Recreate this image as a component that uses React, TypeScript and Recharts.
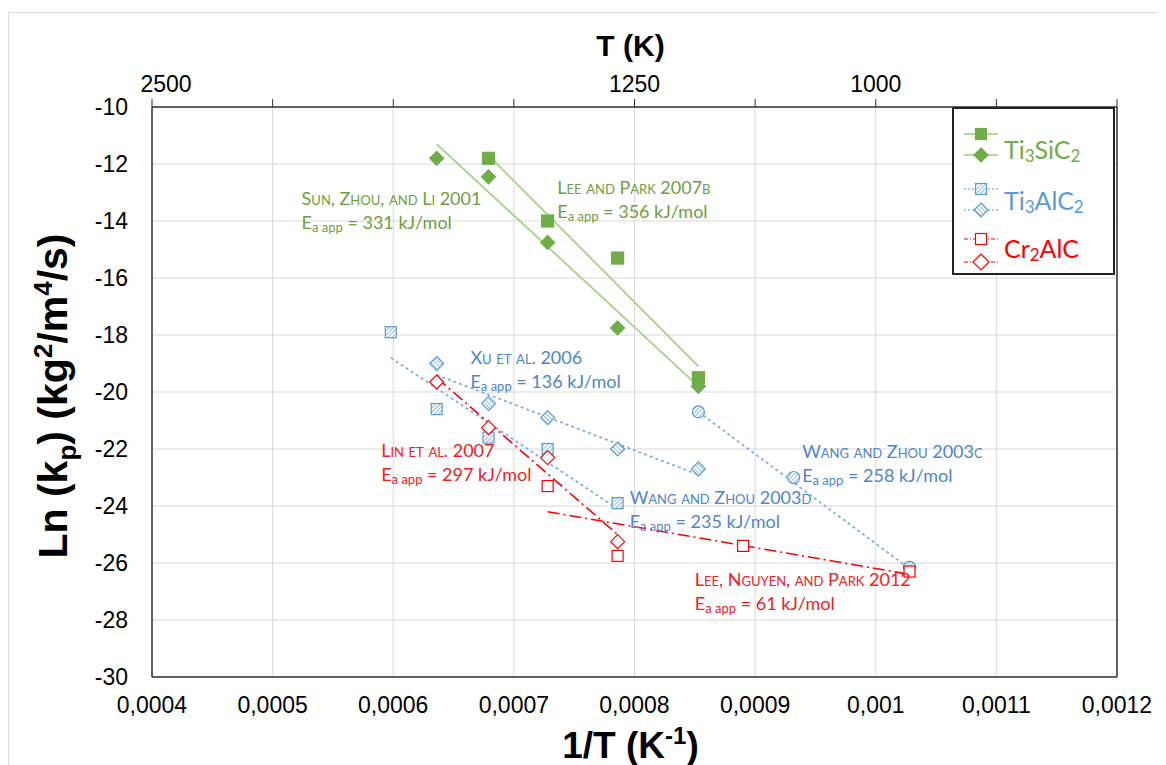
import React from 'react';
import {
  ScatterChart,
  Scatter,
  XAxis,
  YAxis,
  CartesianGrid,
  ReferenceLine,
  ReferenceDot,
  Label,
} from 'recharts';

// axis ticks
const xTicks = [0.0004, 0.0005, 0.0006, 0.0007, 0.0008, 0.0009, 0.001, 0.0011, 0.0012];
const yTicks = [-30, -28, -26, -24, -22, -20, -18, -16, -14, -12, -10];
const topTickLabels = ['2500', '', '', '', '1250', '', '1000', '', ''];

// Ti3SiC2 - Lee and Park 2007b (squares)
const sicLeeX = [0.000679, 0.000728, 0.000786, 0.000853];
const sicLeeY = [-11.8, -14.0, -15.3, -19.5];
const sicLeeFitX = [0.000679, 0.000853];
const sicLeeFitY = [-11.7, -19.1];

// Ti3SiC2 - Sun, Zhou and Li 2001 (diamonds)
const sicSunX = [0.000636, 0.000679, 0.000728, 0.000786, 0.000853];
const sicSunY = [-11.8, -12.45, -14.75, -17.75, -19.8];
const sicSunFitX = [0.000636, 0.000853];
const sicSunFitY = [-11.3, -19.8];

// Ti3AlC2 - Wang and Zhou 2003d (squares)
const talWangDX = [0.000598, 0.000636, 0.000679, 0.000728, 0.000786];
const talWangDY = [-17.9, -20.6, -21.6, -22.0, -23.9];
const talWangDFitX = [0.000598, 0.000786];
const talWangDFitY = [-18.8, -24.1];

// Ti3AlC2 - Xu et al. 2006 (diamonds)
const talXuX = [0.000636, 0.000679, 0.000728, 0.000786, 0.000853];
const talXuY = [-19.0, -20.4, -20.9, -22.0, -22.7];
const talXuFitX = [0.000636, 0.000853];
const talXuFitY = [-19.4, -22.9];

// Ti3AlC2 - Wang and Zhou 2003c (circles)
const talWangCX = [0.000853, 0.000932, 0.001028];
const talWangCY = [-20.7, -23.0, -26.15];
const talWangCFitX = [0.000853, 0.001028];
const talWangCFitY = [-20.7, -26.2];

// Cr2AlC - Lin et al. 2007 (diamonds)
const crLinX = [0.000636, 0.000679, 0.000728, 0.000786];
const crLinY = [-19.65, -21.25, -22.3, -25.25];
const crLinFitX = [0.000636, 0.000786];
const crLinFitY = [-19.5, -25.0];

// Cr2AlC - Lee, Nguyen and Park 2012 (squares)
const crLeeX = [0.000728, 0.000786, 0.00089, 0.001028];
const crLeeY = [-23.3, -25.75, -25.4, -26.3];
const crLeeFitX = [0.000728, 0.001028];
const crLeeFitY = [-24.2, -26.4];

const pts = (xs: number[], ys: number[]) => xs.map((x, i) => ({ x, y: ys[i] }));

const GREEN = '#70AD47';
const GREEN_LINE = '#A9D18E';
const GREEN_TEXT = '#6E9E45';
const BLUE = '#5B9BD5';
const BLUE_LINE = '#86AEDC';
const BLUE_TEXT = '#4F86C6';
const RED = '#FF0000';
const RED_TEXT = '#EE2222';

const axisFont = '"Liberation Sans", Arial, sans-serif';
const noteFont = 'Lato, "Open Sans", sans-serif';

// annotations (label anchor in chart units)
const notes = [
  { x: 0.000524, y: -13.19, title: 'Sun, Zhou, and Li 2001', ea: '331', color: GREEN_TEXT },
  { x: 0.000736, y: -12.8, title: 'Lee and Park 2007b', ea: '356', color: GREEN_TEXT },
  { x: 0.000664, y: -18.77, title: 'Xu et al. 2006', ea: '136', color: BLUE_TEXT },
  { x: 0.00059, y: -22.04, title: 'Lin et al. 2007', ea: '297', color: RED_TEXT },
  { x: 0.000796, y: -23.7, title: 'Wang and Zhou 2003d', ea: '235', color: BLUE_TEXT },
  { x: 0.000939, y: -22.07, title: 'Wang and Zhou 2003c', ea: '258', color: BLUE_TEXT },
  { x: 0.00085, y: -26.56, title: 'Lee, Nguyen, and Park 2012', ea: '61', color: RED_TEXT },
];

const square = (fill: string, stroke: string, s = 12) => (p: any) => (
  <rect x={p.cx - s / 2} y={p.cy - s / 2} width={s} height={s} fill={fill} stroke={stroke} strokeWidth={1.2} />
);
const diamond = (fill: string, stroke: string, r = 7) => (p: any) => (
  <polygon
    points={`${p.cx},${p.cy - r} ${p.cx + r},${p.cy} ${p.cx},${p.cy + r} ${p.cx - r},${p.cy}`}
    fill={fill}
    stroke={stroke}
    strokeWidth={1.2}
  />
);
const circle = (fill: string, stroke: string, r = 6) => (p: any) => (
  <circle cx={p.cx} cy={p.cy} r={r} fill={fill} stroke={stroke} strokeWidth={1.2} />
);
const noShape = () => <g />;

const Note = ({ cx, cy, title, ea, color }: any) => (
  <g fill={color} fontFamily={noteFont} fontSize={18}>
    <text x={cx} y={cy} dominantBaseline="central" style={{ fontVariant: 'small-caps' }}>
      {title}
    </text>
    <text x={cx} y={cy + 24} dominantBaseline="central">
      E
      <tspan fontSize={13} dy={5}>
        a app
      </tspan>
      <tspan dy={-5}>{` = ${ea} kJ/mol`}</tspan>
    </text>
  </g>
);

const YTitle = ({ viewBox }: any) => {
  const x = 59;
  const y = viewBox.y + viewBox.height / 2 + 4;
  return (
    <text
      x={x}
      y={y}
      transform={`rotate(-90, ${x}, ${y})`}
      textAnchor="middle"
      fontFamily={axisFont}
      fontWeight="bold"
      fontSize={41}
      fill="#000"
    >
      Ln (k
      <tspan fontSize={26} dy={9}>
        p
      </tspan>
      <tspan dy={-9}>) (kg</tspan>
      <tspan fontSize={26} dy={-15}>
        2
      </tspan>
      <tspan dy={15}>/m</tspan>
      <tspan fontSize={26} dy={-15}>
        4
      </tspan>
      <tspan dy={15}>/s)</tspan>
    </text>
  );
};

const BottomTitle = ({ viewBox }: any) => (
  <text
    x={viewBox.x + viewBox.width / 2 - 4}
    y={750}
    textAnchor="middle"
    fontFamily={axisFont}
    fontWeight="bold"
    fontSize={37}
    fill="#000"
  >
    1/T (K
    <tspan fontSize={24} dy={-14}>
      -1
    </tspan>
    <tspan dy={14}>)</tspan>
  </text>
);

const TopTitle = ({ viewBox }: any) => (
  <text
    x={viewBox.x + viewBox.width / 2 - 4}
    y={37}
    textAnchor="middle"
    dominantBaseline="central"
    fontFamily={axisFont}
    fontWeight="bold"
    fontSize={30}
    fill="#000"
  >
    T (K)
  </text>
);

// temperature labels on the top axis; the first one sits a little right of its tick
const TopTick = ({ x, y, index }: any) => (
  <text
    x={x + (index === 0 ? 14 : 0)}
    y={y - 4}
    textAnchor="middle"
    fill="#000"
    fontSize={23}
    fontFamily={axisFont}
  >
    {topTickLabels[index] ?? ''}
  </text>
);

const LegendBox = () => {
  const rows = [
    { y1: 25, y2: 46, ty: 40, color: GREEN, dash: undefined, a: square(GREEN, GREEN, 11), b: diamond(GREEN, GREEN, 7), name: ['Ti', '3', 'SiC', '2'] },
    { y1: 80, y2: 101, ty: 91, color: BLUE, dash: '2 2', a: square('url(#hatchBlue)', BLUE, 11), b: diamond('url(#hatchBlue2)', BLUE, 7), name: ['Ti', '3', 'AlC', '2'] },
    { y1: 130, y2: 153, ty: 139, color: RED, dash: '4 2 1 2', a: square('#fff', RED, 11), b: diamond('#fff', RED, 8), name: ['Cr', '2', 'AlC', ''] },
  ];
  return (
    <div
      style={{
        position: 'absolute',
        left: 944,
        top: 99,
        width: 163,
        height: 168,
        border: '2px solid #222',
        background: '#fff',
        boxSizing: 'border-box',
      }}
    >
      <svg width={159} height={164}>
        {rows.map((r, i) => (
          <g key={i}>
            <line x1={10} x2={44} y1={r.y1} y2={r.y1} stroke={r.color} strokeWidth={1.2} strokeDasharray={r.dash} />
            <line x1={10} x2={44} y1={r.y2} y2={r.y2} stroke={r.color} strokeWidth={1.2} strokeDasharray={r.dash} />
            {r.a({ cx: 27, cy: r.y1 })}
            {r.b({ cx: 27, cy: r.y2 })}
            <text x={50} y={r.ty} fill={r.color} fontFamily={noteFont} fontSize={25} dominantBaseline="central">
              {r.name[0]}
              <tspan fontSize={17} dy={6}>
                {r.name[1]}
              </tspan>
              <tspan dy={-6}>{r.name[2]}</tspan>
              {r.name[3] ? (
                <tspan fontSize={17} dy={6}>
                  {r.name[3]}
                </tspan>
              ) : null}
            </text>
          </g>
        ))}
      </svg>
    </div>
  );
};

const fmtX = (v: number) => String(v).replace('.', ',');

export default function App() {
  return (
    <div style={{ position: 'relative', width: 1150, height: 757 }}>
      <div
        style={{
          position: 'absolute',
          left: 0,
          top: 4,
          width: 1158,
          height: 760,
          borderTop: '1px solid #dcdcdc',
          borderLeft: '1px solid #dcdcdc',
        }}
      />
      <ScatterChart width={1150} height={757} margin={{ top: 0, right: 41, bottom: 0, left: 0 }}>
        <defs>
          <pattern id="hatchBlue" patternUnits="userSpaceOnUse" width={3} height={3} patternTransform="rotate(45)">
            <rect width={3} height={3} fill="#fff" />
            <line x1={0} y1={0} x2={0} y2={3} stroke={BLUE} strokeWidth={1.3} />
          </pattern>
          <pattern id="hatchBlue2" patternUnits="userSpaceOnUse" width={3} height={3} patternTransform="rotate(-45)">
            <rect width={3} height={3} fill="#fff" />
            <line x1={0} y1={0} x2={0} y2={3} stroke={BLUE} strokeWidth={1.3} />
          </pattern>
        </defs>
        <CartesianGrid stroke="#d9d9d9" />
        <XAxis
          dataKey="x"
          type="number"
          domain={[0.0004, 0.0012]}
          ticks={xTicks}
          tickFormatter={fmtX}
          height={88}
          axisLine={{ stroke: '#333', strokeWidth: 1.5 }}
          tickLine={false}
          tickSize={6}
          tickMargin={14}
          tick={{ fill: '#000', fontSize: 23, fontFamily: axisFont }}
          allowDataOverflow
        >
          <Label content={BottomTitle} />
        </XAxis>
        <XAxis
          xAxisId="top"
          dataKey="x"
          orientation="top"
          type="number"
          domain={[0.0004, 0.0012]}
          ticks={xTicks}
          height={99}
          axisLine={{ stroke: '#333', strokeWidth: 1.5 }}
          tickLine={{ stroke: '#333' }}
          tickSize={8}
          tickMargin={3}
          tick={<TopTick />}
          allowDataOverflow
        >
          <Label content={TopTitle} />
        </XAxis>
        <YAxis
          dataKey="y"
          type="number"
          domain={[-30, -10]}
          ticks={yTicks}
          width={144}
          axisLine={{ stroke: '#333', strokeWidth: 1.5 }}
          tickLine={false}
          tickSize={6}
          tickMargin={18}
          tick={{ fill: '#000', fontSize: 23, fontFamily: axisFont }}
          allowDataOverflow
        >
          <Label content={YTitle} />
        </YAxis>
        <ReferenceLine x={0.0012} stroke="#333" strokeWidth={1.5} />

        {/* invisible series so the temperature axis on top gets its scale */}
        <Scatter xAxisId="top" data={pts(sicLeeX, sicLeeY)} shape={noShape} isAnimationActive={false} />

        {/* fitted lines */}
        <Scatter data={pts(sicSunFitX, sicSunFitY)} shape={noShape} line={{ stroke: GREEN_LINE, strokeWidth: 1.8 }} isAnimationActive={false} />
        <Scatter data={pts(sicLeeFitX, sicLeeFitY)} shape={noShape} line={{ stroke: GREEN_LINE, strokeWidth: 1.8 }} isAnimationActive={false} />
        <Scatter data={pts(talWangDFitX, talWangDFitY)} shape={noShape} line={{ stroke: BLUE_LINE, strokeWidth: 1.8, strokeDasharray: '3 3' }} isAnimationActive={false} />
        <Scatter data={pts(talXuFitX, talXuFitY)} shape={noShape} line={{ stroke: BLUE_LINE, strokeWidth: 1.8, strokeDasharray: '3 3' }} isAnimationActive={false} />
        <Scatter data={pts(talWangCFitX, talWangCFitY)} shape={noShape} line={{ stroke: BLUE_LINE, strokeWidth: 1.8, strokeDasharray: '3 3' }} isAnimationActive={false} />
        <Scatter data={pts(crLinFitX, crLinFitY)} shape={noShape} line={{ stroke: RED, strokeWidth: 1.6, strokeDasharray: '12 4 2 4' }} isAnimationActive={false} />
        <Scatter data={pts(crLeeFitX, crLeeFitY)} shape={noShape} line={{ stroke: RED, strokeWidth: 1.6, strokeDasharray: '12 4 2 4' }} isAnimationActive={false} />

        {/* measured points */}
        <Scatter data={pts(sicLeeX, sicLeeY)} shape={square(GREEN, GREEN, 12)} isAnimationActive={false} />
        <Scatter data={pts(sicSunX, sicSunY)} shape={diamond(GREEN, GREEN, 7)} isAnimationActive={false} />
        <Scatter data={pts(talWangDX, talWangDY)} shape={square('url(#hatchBlue)', BLUE, 11)} isAnimationActive={false} />
        <Scatter data={pts(talXuX, talXuY)} shape={diamond('url(#hatchBlue2)', BLUE, 7)} isAnimationActive={false} />
        <Scatter data={pts(talWangCX, talWangCY)} shape={circle('url(#hatchBlue)', BLUE, 6)} isAnimationActive={false} />
        <Scatter data={pts(crLinX, crLinY)} shape={diamond('#fff', RED, 7)} isAnimationActive={false} />
        <Scatter data={pts(crLeeX, crLeeY)} shape={square('#fff', RED, 11)} isAnimationActive={false} />

        {notes.map((n, i) => (
          <ReferenceDot
            key={i}
            x={n.x}
            y={n.y}
            r={0}
            ifOverflow="visible"
            shape={(p: any) => <Note cx={p.cx} cy={p.cy} title={n.title} ea={n.ea} color={n.color} />}
          />
        ))}
      </ScatterChart>
      <LegendBox />
    </div>
  );
}
